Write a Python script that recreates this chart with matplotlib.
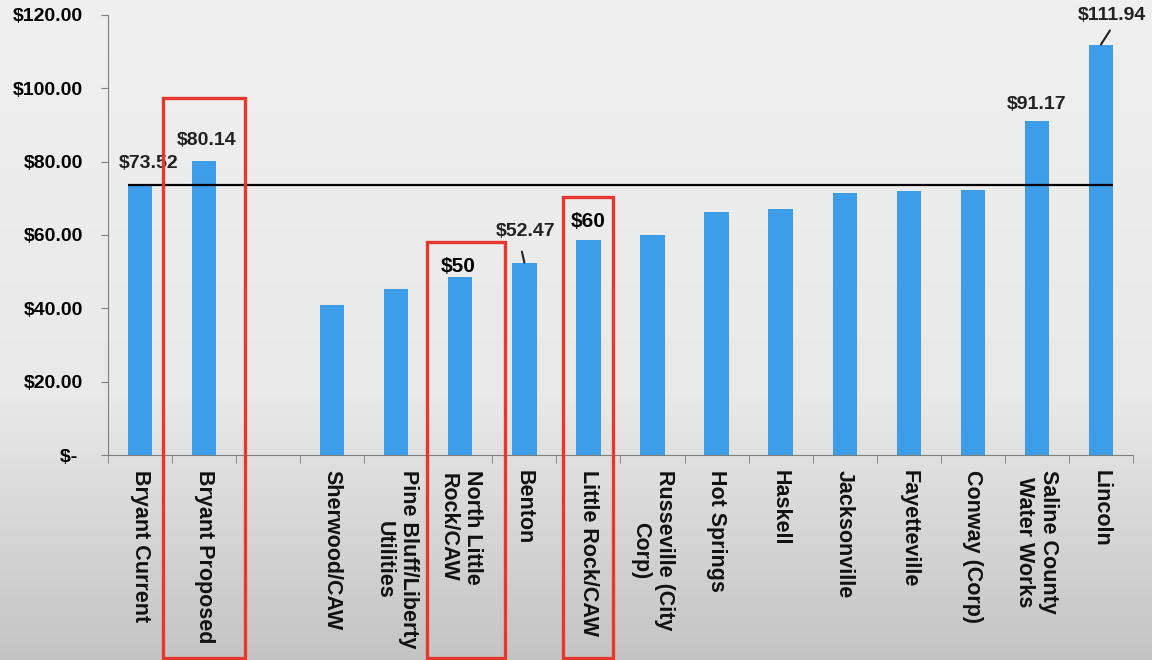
import numpy as np
import matplotlib
matplotlib.use("Agg")
import matplotlib.pyplot as plt
from matplotlib.patches import Rectangle
from matplotlib.colors import LinearSegmentedColormap

plt.rcParams['font.family'] = ['Liberation Sans', 'DejaVu Sans']

# data (empty slot between Bryant and the others)
cities = ['Bryant Current', 'Bryant Proposed', '',
          'Sherwood/CAW', 'Pine Bluff/Liberty\nUtilities', 'North Little\nRock/CAW',
          'Benton', 'Little Rock/CAW', 'Russeville (City\nCorp)', 'Hot Springs',
          'Haskell', 'Jacksonville', 'Fayetteville', 'Conway (Corp)',
          'Saline County\nWater Works', 'Lincoln']
rates = [73.52, 80.14, 0,
         40.8, 45.3, 48.6, 52.47, 58.7, 60.1, 66.3,
         67.0, 71.5, 71.9, 72.3, 91.17, 111.94]
current_rate = 73.52
yticks = [0, 20, 40, 60, 80, 100, 120]

# value labels: index -> (text, dx px, dy px)
value_labels = {0: ('$73.52', 9, 22),
                1: ('$80.14', 3, 21),
                6: ('$52.47', 1, 31),
                14: ('$91.17', 0, 16),
                15: ('$111.94', 11, 29)}
# leader lines: index -> (start dx, end dx, end dy) in px from bar top
leaders = {6: (1.5, -2.5, 11), 15: (1, 9, 14)}
# hand-written callouts
callouts = {5: ('$50', -2, 10), 7: ('$60', 0, 18)}
# red boxes drawn over the slide: (x0, x1, top) in data units
boxes = [(0.36, 1.64, 97.3), (4.48, 5.69, 58.0), (6.61, 7.39, 70.3)]

fig = plt.figure(figsize=(11.52, 6.6), dpi=100)

# slide background gradient
bg = fig.add_axes([0, 0, 1, 1], zorder=-10)
cmap = LinearSegmentedColormap.from_list(
    'bg', [(0, '#f0f0f0'), (0.6, '#e9e9e9'), (1, '#c4c4c4')])
bg.imshow(np.linspace(0, 1, 256).reshape(-1, 1), aspect='auto', cmap=cmap,
          extent=[0, 1, 0, 1], origin='upper')
bg.axis('off')

ax = fig.add_axes([0.09375, 0.3106, 0.8897, 0.6667])
ax.set_facecolor('none')

x = np.arange(len(cities))
ax.bar(x, rates, width=0.38, color='#3d9de8', zorder=2)
ax.hlines(current_rate, x[0] - 0.19, x[-1] + 0.19, color='black', lw=1.6, zorder=3)

ax.set_xlim(-0.5, len(cities) - 0.5)
ax.set_ylim(0, 120)
ax.set_yticks(yticks)
ax.set_yticklabels(['$- ' if v == 0 else '${:.2f}'.format(v) for v in yticks],
                   fontsize=14, fontweight='bold')
ax.set_xticks(x)
ax.set_xticklabels(cities, rotation=270, fontsize=15.5, fontweight='bold',
                   color='#111111', va='top', ha='center')
ax.set_xticks(np.arange(len(cities) + 1) - 0.5, minor=True)
ax.tick_params(axis='x', which='major', length=0, pad=11)
ax.tick_params(axis='x', which='minor', length=6, color='#7f7f7f', direction='out')
ax.tick_params(axis='y', length=5, color='#7f7f7f', pad=13)

for s in ['top', 'right']:
    ax.spines[s].set_visible(False)
for s in ['left', 'bottom']:
    ax.spines[s].set_color('#7f7f7f')

for i, (txt, dx, dy) in value_labels.items():
    ax.annotate(txt, (x[i], rates[i]), xytext=(dx, dy), textcoords='offset pixels',
                ha='center', va='center', fontsize=14, fontweight='bold', color='#222222')

for i, (sx, ex, ey) in leaders.items():
    ax.annotate('', xy=(x[i], rates[i]), xytext=(ex, ey), textcoords='offset pixels',
                arrowprops=dict(arrowstyle='-', color='#222222', lw=1.5,
                                shrinkA=0, shrinkB=0, relpos=(0.5, 0.5)))

for i, (txt, dx, dy) in callouts.items():
    ax.annotate(txt, (x[i], rates[i]), xytext=(dx, dy), textcoords='offset pixels',
                ha='center', va='center', fontsize=15, fontweight='bold', color='black')

for x0, x1, top in boxes:
    ax.add_patch(Rectangle((x0, -55.3), x1 - x0, top + 55.3, fill=False,
                           edgecolor='#e8372c', lw=2.4, clip_on=False, zorder=5))

fig.savefig('out.png', dpi=100)
